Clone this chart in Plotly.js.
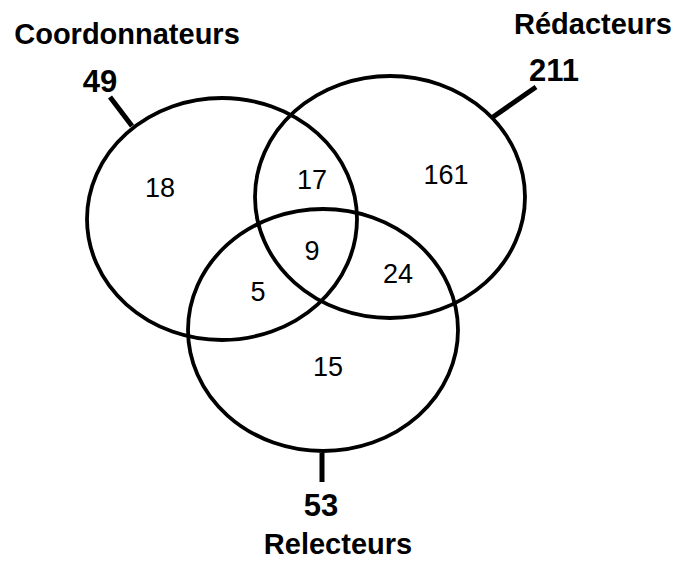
<!DOCTYPE html>
<html>
<head>
<meta charset="utf-8">
<script src="https://cdn.plot.ly/plotly-3.0.1.min.js"></script>
<style>html,body{margin:0;padding:0;background:#fff;}#chart{width:676px;height:563px;}</style>
</head>
<body>
<div id="chart"></div>
<script>
// ---- data ----
const setNames = ['Coordonnateurs', 'Rédacteurs', 'Relecteurs'];
const setTotals = [49, 211, 53];
const regionNames = ['Coordonnateurs seuls', 'Coordonnateurs ∩ Rédacteurs', 'Rédacteurs seuls',
                     'Tous', 'Coordonnateurs ∩ Relecteurs', 'Rédacteurs ∩ Relecteurs', 'Relecteurs seuls'];
const regionCounts = [18, 17, 161, 9, 5, 24, 15];

// ---- layout geometry (pixel-like coordinates) ----
const ellipses = [
  {cx: 222, cy: 219, rx: 135, ry: 121},
  {cx: 390, cy: 197, rx: 135, ry: 121},
  {cx: 323, cy: 330, rx: 135, ry: 121}
];
const regionPos = [[160,190],[312,182],[446,177],[312,253],[258,294],[398,276],[328,369]];
const totalPos = [[100,84],[554,73],[321,508]];
const namePos = [[127,37],[593,27],[338,547]];
const tickLines = [[110,97,132,126],[536,87,493,117],[322,453,322,482]];

const FONT = 'Liberation Sans, Arial, Helvetica, sans-serif';

const shapes = [];
ellipses.forEach(e => shapes.push({
  type: 'circle', xref: 'x', yref: 'y',
  x0: e.cx - e.rx, x1: e.cx + e.rx, y0: e.cy - e.ry, y1: e.cy + e.ry,
  line: {color: '#000', width: 3.8}, fillcolor: 'rgba(0,0,0,0)'
}));
tickLines.forEach(t => shapes.push({
  type: 'line', xref: 'x', yref: 'y', x0: t[0], y0: t[1], x1: t[2], y1: t[3],
  line: {color: '#000', width: 5}
}));

const traces = [
  {
    type: 'scatter', mode: 'text',
    x: regionPos.map(p => p[0]), y: regionPos.map(p => p[1]),
    text: regionCounts.map(String), hovertext: regionNames,
    textposition: 'middle center',
    textfont: {family: FONT, size: 27, color: '#000'},
    showlegend: false
  },
  {
    type: 'scatter', mode: 'text',
    x: totalPos.map(p => p[0]), y: totalPos.map(p => p[1]),
    text: setTotals.map(v => '<b>' + v + '</b>'),
    textposition: 'middle center',
    textfont: {family: FONT, size: 31, color: '#000'},
    showlegend: false
  },
  {
    type: 'scatter', mode: 'text',
    x: namePos.map(p => p[0]), y: namePos.map(p => p[1]),
    text: setNames.map(v => '<b>' + v + '</b>'),
    textposition: 'middle center',
    textfont: {family: FONT, size: 29, color: '#000'},
    showlegend: false
  }
];

const layout = {
  width: 676, height: 563,
  margin: {l: 0, r: 0, t: 0, b: 0},
  paper_bgcolor: '#fff', plot_bgcolor: '#fff',
  xaxis: {range: [0, 676], visible: false, fixedrange: true},
  yaxis: {range: [563, 0], visible: false, fixedrange: true},
  shapes: shapes,
  showlegend: false
};

Plotly.newPlot('chart', traces, layout, {staticPlot: true});
</script>
</body>
</html>
